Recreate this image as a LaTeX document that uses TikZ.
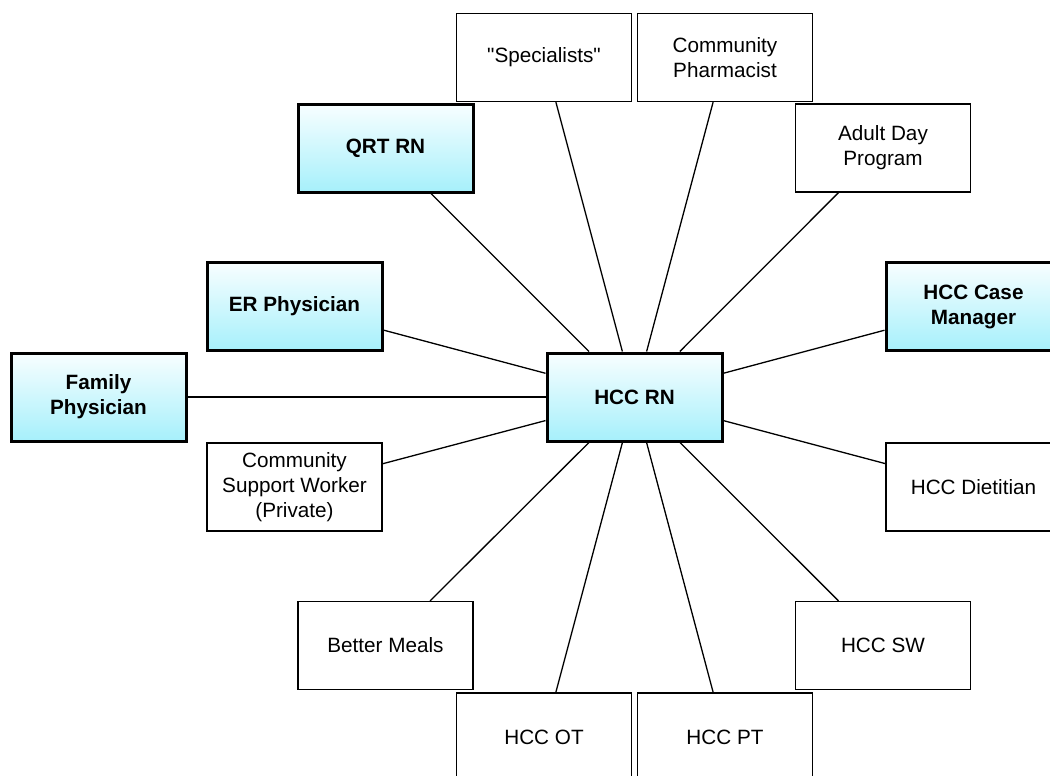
\documentclass[tikz,border=0pt]{standalone}
\usepackage{fontspec}
\setmainfont{Liberation Sans}
\definecolor{cyanbot}{RGB}{166,240,251}
\definecolor{cyantop}{RGB}{248,254,255}
\tikzset{
  box/.style={draw=black, line width=1.2pt, fill=white, minimum width=175pt, minimum height=88pt,
    inner sep=2pt, align=center, font=\fontsize{20.7}{25}\selectfont},
  keybox/.style={box, line width=3pt, top color=cyantop, bottom color=cyanbot,
    font=\fontsize{20.7}{25}\selectfont\bfseries},
  link/.style={draw=black, line width=1.3pt}
}
\begin{document}
\begin{tikzpicture}[x=1pt,y=-1pt]
\useasboundingbox (0,0) rectangle (1050,776);
\clip (0,0) rectangle (1050,776);
\node[box] (spec) at (544,57.5) {\textquotedbl Specialists\textquotedbl};
\node[box] (pharm) at (725,57.5) {Community\\Pharmacist};
\node[keybox] (qrt) at (385.5,148) {QRT RN};
\node[box] (adult) at (883,148) {Adult Day\\Program};
\node[keybox] (er) at (294.5,306.5) {ER Physician};
\node[keybox] (cm) at (973.5,306.5) {HCC Case\\Manager};
\node[keybox] (fam) at (98.5,397) {Family\\Physician};
\node[keybox] (rn) at (634.5,397) {HCC RN};
\node[box] (csw) at (294.5,487) {Community\\Support Worker\\(Private)};
\node[box] (diet) at (973.5,487) {HCC Dietitian};
\node[box] (meals) at (385.5,645.5) {Better Meals};
\node[box] (sw) at (883,645.5) {HCC SW};
\node[box] (ot) at (544,737) {HCC OT};
\node[box] (pt) at (725,737) {HCC PT};
\foreach \n in {spec,pharm,qrt,adult,er,cm,fam,csw,diet,meals,sw,ot,pt}
  \draw[link] (rn) -- (\n);
\end{tikzpicture}
\end{document}
